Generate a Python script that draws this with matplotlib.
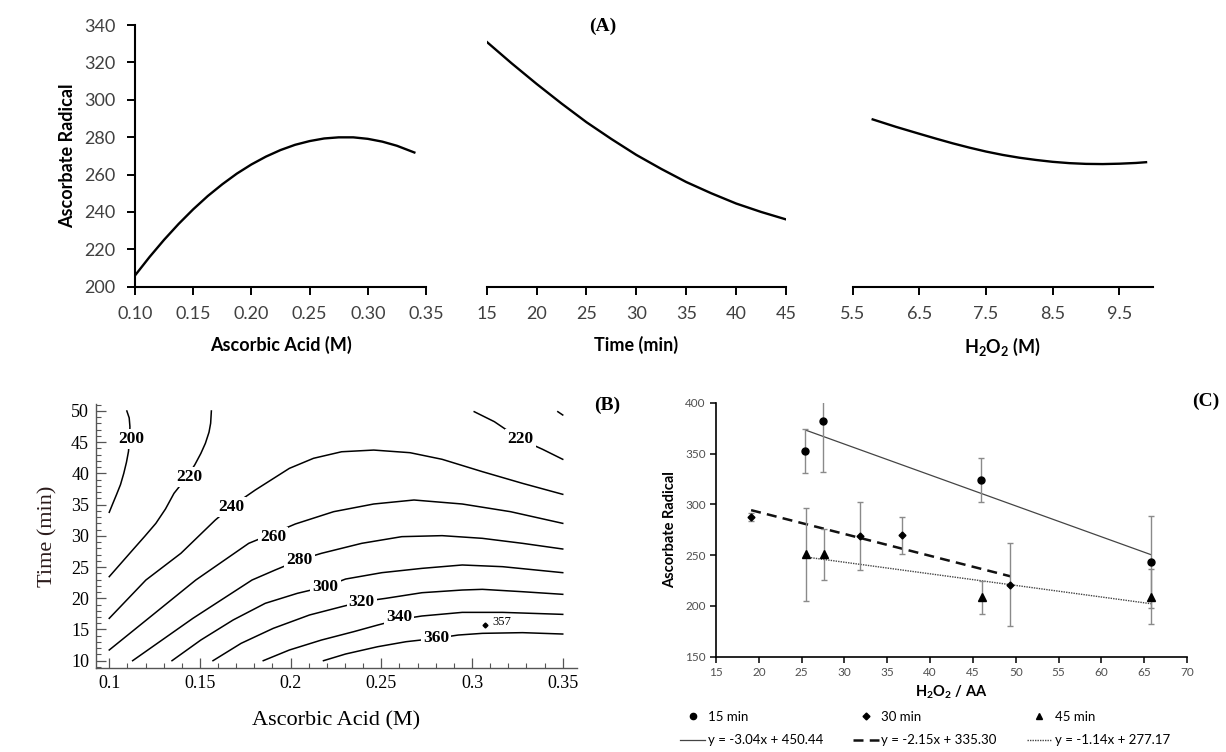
import matplotlib
matplotlib.use('Agg')
import matplotlib.pyplot as plt
from matplotlib.lines import Line2D
from matplotlib.ticker import MultipleLocator

SANS = ['Lato', 'DejaVu Sans']
SERIF = ['Liberation Serif', 'DejaVu Serif']
plt.rcParams['mathtext.fontset'] = 'custom'
plt.rcParams['mathtext.rm'] = 'Lato'
plt.rcParams['mathtext.bf'] = 'Lato:bold'

# ---------------- panel A : one-factor effect curves ----------------
aa_conc = [0.10, 0.1125, 0.125, 0.1375, 0.15, 0.1625, 0.175, 0.1875, 0.20, 0.2125,
           0.225, 0.2375, 0.25, 0.2625, 0.275, 0.2875, 0.30, 0.3125, 0.325, 0.34]
aa_radical = [206.0, 215.9, 225.1, 233.6, 241.4, 248.5, 254.8, 260.5, 265.4, 269.6,
              273.1, 275.9, 277.9, 279.3, 279.9, 279.9, 279.1, 277.6, 275.4, 271.8]

time_min = [15, 17.5, 20, 22.5, 25, 27.5, 30, 32.5, 35, 37.5, 40, 42.5, 45]
time_radical = [331, 319.5, 308.5, 298, 288, 279, 270.5, 263, 256, 250, 244.5, 240, 236]

h2o2_conc = [5.8, 6.15, 6.5, 6.75, 7.0, 7.25, 7.5, 7.75, 8.0, 8.25, 8.5, 8.75,
             9.0, 9.25, 9.5, 9.75, 9.9]
h2o2_radical = [289.5, 285.5, 281.8, 279.2, 276.7, 274.4, 272.3, 270.5, 269.0, 267.8,
                266.8, 266.1, 265.7, 265.6, 265.8, 266.2, 266.6]

# ---------------- panel B : contour lines (ascorbic acid M, time min) ----------------
c200a_x = [0.100, 0.1020, 0.1040, 0.1062, 0.1080, 0.1095, 0.1106, 0.1112, 0.1114, 0.1110, 0.1097]
c200a_t = [33.77, 35.2, 36.6, 38.2, 40.0, 41.8, 43.5, 45.5, 47.5, 48.9, 50.0]
c200b_x = [0.3473, 0.350]
c200b_t = [49.89, 49.36]
c220a_x = [0.100, 0.1129, 0.1195, 0.1257, 0.1310, 0.1357, 0.1430, 0.1472, 0.1505,
           0.1530, 0.1550, 0.1559, 0.1563]
c220a_t = [23.46, 27.73, 29.9, 32.00, 34.3, 36.81, 39.48, 41.4, 43.2,
           44.82, 46.6, 48.03, 50.0]
c220b_x = [0.3012, 0.3123, 0.3267, 0.3389, 0.350]
c220b_t = [49.89, 48.29, 45.46, 43.86, 42.26]
c240_x = [0.100, 0.1202, 0.1395, 0.1585, 0.1672, 0.1805, 0.1993, 0.2126, 0.2281,
          0.2458, 0.2658, 0.2835, 0.3057, 0.3278, 0.350]
c240_t = [16.78, 22.92, 27.20, 32.54, 34.67, 37.34, 40.81, 42.42, 43.47,
          43.74, 43.32, 42.26, 40.28, 38.41, 36.65]
c260_x = [0.100, 0.1239, 0.1477, 0.1769, 0.1904, 0.2026, 0.2237, 0.2458, 0.2680,
          0.2946, 0.3212, 0.350]
c260_t = [11.71, 17.32, 22.92, 28.80, 30.40, 31.90, 33.87, 35.10, 35.74,
          35.10, 33.87, 32.00]
c280_x = [0.1129, 0.1461, 0.1787, 0.1915, 0.2048, 0.2170, 0.2392, 0.2613, 0.2835,
          0.3057, 0.3278, 0.350]
c280_t = [10.0, 16.78, 22.92, 24.53, 26.13, 27.20, 28.80, 29.87, 30.03,
          29.60, 28.80, 27.89]
c300_x = [0.1346, 0.1505, 0.1683, 0.1860, 0.2037, 0.2192, 0.2303, 0.2503, 0.2724,
          0.2946, 0.3168, 0.350]
c300_t = [10.0, 13.31, 16.52, 19.19, 20.79, 21.86, 23.08, 24.10, 24.79,
          25.33, 25.06, 24.10]
c320_x = [0.1572, 0.1727, 0.1904, 0.2104, 0.2281, 0.2392, 0.2525, 0.2724, 0.2946,
          0.3057, 0.3278, 0.350]
c320_t = [10.0, 12.78, 15.18, 17.32, 18.65, 19.45, 19.99, 20.89, 21.32,
          21.43, 21.05, 20.63]
c340_x = [0.1849, 0.1993, 0.2170, 0.2348, 0.2480, 0.2598, 0.2724, 0.2946, 0.3168, 0.350]
c340_t = [10.0, 11.71, 13.31, 14.65, 15.71, 16.60, 17.16, 17.74, 17.74, 17.42]
c360_x = [0.2181, 0.2303, 0.2480, 0.2636, 0.2802, 0.2924, 0.3057, 0.3278, 0.350]
c360_t = [10.0, 11.07, 12.24, 13.04, 13.58, 14.11, 14.38, 14.49, 14.27]

clabel_text = ['200', '220', '240', '260', '280', '300', '320', '340', '360', '220']
clabel_x = [0.1124, 0.1439, 0.1672, 0.1904, 0.2048, 0.2192, 0.2392, 0.2598, 0.2802, 0.3267]
clabel_t = [45.46, 39.48, 34.67, 29.76, 26.13, 21.86, 19.45, 16.94, 13.58, 45.46]

opt_x, opt_t, opt_label = 0.3072, 15.71, '357'

b_xticks = [0.1, 0.15, 0.2, 0.25, 0.3, 0.35]
b_xtick_labels = ['0.1', '0.15', '0.2', '0.25', '0.3', '0.35']
b_yticks = [10, 15, 20, 25, 30, 35, 40, 45, 50]

# ---------------- panel C : radical vs H2O2/AA ----------------
r15_x = [25.42, 27.55, 45.96, 65.74]
r15_y = [352.4, 382.3, 323.9, 243.2]
r15_err = [22, 51, 22, 45]
r30_x = [19.08, 31.86, 36.73, 49.33]
r30_y = [287.8, 268.8, 269.4, 220.9]
r30_err = [4, 33, 18, 41]
r45_x = [25.51, 27.64, 46.05, 65.83]
r45_y = [250.7, 250.7, 208.4, 209.1]
r45_err = [46, 25, 16.5, 27]

fit15 = (-3.04, 450.44)
fit30 = (-2.15, 335.30)
fit45 = (-1.14, 277.17)
fit15_range = [25.5, 65.8]
fit30_range = [19.1, 49.4]
fit45_range = [25.5, 65.8]

W, H = 1226, 752
fig = plt.figure(figsize=(W / 100, H / 100), dpi=100)


def fax(x0, y_top, x1, y_bot):
    # pixel box -> figure axes
    return fig.add_axes([x0 / W, 1 - y_bot / H, (x1 - x0) / W, (y_bot - y_top) / H])


def style_a(ax, left_spine):
    for s in ['top', 'right']:
        ax.spines[s].set_visible(False)
    ax.spines['bottom'].set_linewidth(1.5)
    ax.spines['left'].set_linewidth(1.5)
    if not left_spine:
        ax.spines['left'].set_visible(False)
        ax.set_yticks([])
    ax.tick_params(direction='out', length=6, width=1.4, labelsize=13,
                   labelcolor='#404040', pad=8)
    for lab in ax.get_xticklabels() + ax.get_yticklabels():
        lab.set_family(SANS)


# ---- panel A
axA1 = fax(135, 25, 426, 286.7)
axA1.plot(aa_conc, aa_radical, color='black', lw=1.7)
axA1.set_xlim(0.10, 0.35)
axA1.set_ylim(200, 340)
axA1.set_xticks([0.10, 0.15, 0.20, 0.25, 0.30, 0.35])
axA1.set_xticklabels(['0.10', '0.15', '0.20', '0.25', '0.30', '0.35'])
axA1.set_yticks(range(200, 341, 20))
style_a(axA1, True)
axA1.set_xlabel('Ascorbic Acid (M)', family=SANS, fontsize=13, fontweight='bold', labelpad=10)
axA1.set_ylabel('Ascorbate Radical', family=SANS, fontsize=13, fontweight='bold', labelpad=6)

axA2 = fax(486.7, 25, 786, 286.7)
axA2.plot(time_min, time_radical, color='black', lw=1.7)
axA2.set_xlim(15, 45)
axA2.set_ylim(200, 340)
axA2.set_xticks(range(15, 46, 5))
style_a(axA2, False)
axA2.set_xlabel('Time (min)', family=SANS, fontsize=13, fontweight='bold', labelpad=10)

axA3 = fax(852.7, 25, 1152.7, 286.7)
axA3.plot(h2o2_conc, h2o2_radical, color='black', lw=1.7)
axA3.set_xlim(5.5, 10.0)
axA3.set_ylim(200, 340)
axA3.set_xticks([5.5, 6.5, 7.5, 8.5, 9.5])
style_a(axA3, False)
axA3.set_xlabel(r'H$_\mathbf{2}$O$_\mathbf{2}$ (M)', family=SANS, fontsize=13,
                fontweight='bold', labelpad=10)

fig.text(603 / W, 1 - 26 / H, '(A)', family=SERIF, fontsize=14, fontweight='bold',
         ha='center', va='center')

# ---- panel B
axB = fax(96, 404, 576.7, 668.3)
contours = [(c200a_x, c200a_t), (c200b_x, c200b_t), (c220a_x, c220a_t), (c220b_x, c220b_t),
            (c240_x, c240_t), (c260_x, c260_t), (c280_x, c280_t), (c300_x, c300_t),
            (c320_x, c320_t), (c340_x, c340_t), (c360_x, c360_t)]
for cx, ct in contours:
    axB.plot(cx, ct, color='black', lw=1.1, zorder=2, solid_joinstyle='round')
for txt, lx, lt in zip(clabel_text, clabel_x, clabel_t):
    axB.text(lx, lt, txt, family=SERIF, fontsize=12.5, fontweight='bold', ha='center',
             va='center', zorder=3,
             bbox=dict(facecolor='white', edgecolor='none', pad=1.5))
axB.plot([opt_x], [opt_t], marker='D', ms=2.5, color='black', ls='none')
axB.text(opt_x + 0.004, opt_t + 0.5, opt_label, family=SERIF, fontsize=9, va='center')

axB.set_xlim(0.0927, 0.3577)
axB.set_ylim(8.78, 51.12)
axB.set_xticks(b_xticks)
axB.set_xticklabels(b_xtick_labels)
axB.set_yticks(b_yticks)
axB.xaxis.set_minor_locator(MultipleLocator(0.01))
axB.yaxis.set_minor_locator(MultipleLocator(1))
for s in ['top', 'right']:
    axB.spines[s].set_visible(False)
for s in ['left', 'bottom']:
    axB.spines[s].set_color('#555555')
    axB.spines[s].set_linewidth(1.0)
axB.tick_params(which='major', direction='in', length=7, width=0.9, color='#555555',
                labelsize=13, pad=5)
axB.tick_params(which='minor', direction='in', length=3.5, width=0.8, color='#555555')
for lab in axB.get_xticklabels() + axB.get_yticklabels():
    lab.set_family(SERIF)
axB.set_xlabel('Ascorbic Acid (M)', family=SERIF, fontsize=16, labelpad=14)
axB.set_ylabel('Time (min)', family=SERIF, fontsize=16, labelpad=10, color='#2a1a1a')
fig.text(607 / W, 1 - 405 / H, '(B)', family=SERIF, fontsize=14, fontweight='bold',
         ha='center', va='center')

# ---- panel C
axC = fax(716, 402.7, 1187, 656.7)
bar_kw = dict(ls='none', ecolor='#8a8a8a', elinewidth=1.0, capsize=2.5, capthick=1.0)
axC.errorbar(r15_x, r15_y, yerr=r15_err, marker='o', ms=5, color='black', **bar_kw)
axC.errorbar(r30_x, r30_y, yerr=r30_err, marker='D', ms=3.5, color='black', **bar_kw)
axC.errorbar(r45_x, r45_y, yerr=r45_err, marker='^', ms=5.5, color='black', **bar_kw)
for (m, b), xr, ls, lw, col in [(fit15, fit15_range, '-', 0.9, '#444444'),
                                 (fit30, fit30_range, (0, (4, 2.5)), 1.8, '#111111'),
                                 (fit45, fit45_range, (0, (1, 0.8)), 1.0, '#444444')]:
    axC.plot(xr, [m * xr[0] + b, m * xr[1] + b], color=col, ls=ls, lw=lw, zorder=1)

axC.set_xlim(15, 70)
axC.set_ylim(150, 400)
axC.set_xticks(range(15, 71, 5))
axC.set_yticks(range(150, 401, 50))
for s in ['top', 'right']:
    axC.spines[s].set_visible(False)
for s in ['left', 'bottom']:
    axC.spines[s].set_linewidth(1.2)
axC.tick_params(direction='out', length=4, width=1.1, labelsize=8.5, labelcolor='#505050')
for lab in axC.get_xticklabels() + axC.get_yticklabels():
    lab.set_family(SANS)
axC.set_xlabel(r'H$_\mathbf{2}$O$_\mathbf{2}$ / AA', family=SANS, fontsize=10.5,
               fontweight='bold', labelpad=4)
axC.set_ylabel('Ascorbate Radical', family=SANS, fontsize=10.5, fontweight='bold', labelpad=6)
fig.text(1206 / W, 1 - 401 / H, '(C)', family=SERIF, fontsize=14, fontweight='bold',
         ha='center', va='center')

handles = [
    Line2D([], [], marker='o', ms=4.5, ls='none', color='black'),
    Line2D([], [], color='#444444', lw=0.9),
    Line2D([], [], marker='D', ms=3.5, ls='none', color='black'),
    Line2D([], [], color='#111111', lw=1.8, ls=(0, (4, 2.5))),
    Line2D([], [], marker='^', ms=5, ls='none', color='black'),
    Line2D([], [], color='#444444', lw=1.0, ls=(0, (1, 0.8))),
]
labels = ['15 min', 'y = -3.04x + 450.44', '30 min', 'y = -2.15x + 335.30',
          '45 min', 'y = -1.14x + 277.17']
fig.legend(handles, labels, ncol=3, frameon=False, loc='upper left',
           bbox_to_anchor=(680 / W, 1 - 711 / H), prop={'family': SANS, 'size': 9.5},
           handlelength=1.9, handletextpad=0.2, columnspacing=2.3, labelspacing=0.85,
           borderaxespad=0, borderpad=0)

fig.savefig('out.png', dpi=100)
